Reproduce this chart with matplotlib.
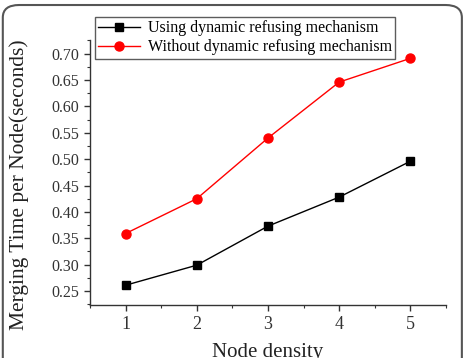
import matplotlib
matplotlib.use("Agg")
import matplotlib.pyplot as plt
from matplotlib.patches import FancyBboxPatch
from matplotlib.ticker import MultipleLocator

# données
densite = [1, 2, 3, 4, 5]
avec_refus = [0.261, 0.299, 0.373, 0.428, 0.496]
sans_refus = [0.359, 0.425, 0.540, 0.646, 0.691]
label_avec = "Using dynamic refusing mechanism"
label_sans = "Without dynamic refusing mechanism"

plt.rcParams['font.family'] = ['Liberation Serif', 'DejaVu Serif']

fig = plt.figure(figsize=(4.67, 3.58), dpi=100)
ax = fig.add_axes([0.1927, 0.148, 0.7623, 0.740])

ax.plot(densite, avec_refus, color='black', marker='s', markersize=6, lw=1, label=label_avec)
ax.plot(densite, sans_refus, color='red', marker='o', markersize=6.5, lw=1, label=label_sans)

ax.set_xlim(0.5, 5.5)
ax.set_ylim(0.2235, 0.7256)
ax.xaxis.set_major_locator(MultipleLocator(1))
ax.xaxis.set_minor_locator(MultipleLocator(0.5))
ax.yaxis.set_major_locator(MultipleLocator(0.05))
ax.yaxis.set_minor_locator(MultipleLocator(0.025))
ax.yaxis.set_major_formatter(plt.FormatStrFormatter('%.2f'))

for s in ['top', 'right']:
    ax.spines[s].set_visible(False)
for s in ['left', 'bottom']:
    ax.spines[s].set_linewidth(1.0)
    ax.spines[s].set_color('#333333')

ax.tick_params(which='major', direction='out', length=4, width=1, colors='#333333')
ax.tick_params(which='minor', direction='out', length=2.5, width=0.8, colors='#333333')
ax.tick_params(axis='y', labelsize=11.5)
ax.tick_params(axis='x', labelsize=13, pad=4)

ax.set_xlabel('Node density', fontsize=15, color='#222222')
ax.xaxis.set_label_coords(0.5, -0.145)
ax.set_ylabel('Merging Time per Node(seconds)', fontsize=15.5, color='#222222')
ax.yaxis.set_label_coords(-0.17, 0.455)

leg = ax.legend(loc='upper left', bbox_to_anchor=(0.2034, 0.9525), bbox_transform=fig.transFigure,
                fontsize=11.5, frameon=True, fancybox=False, handlelength=2.6,
                borderpad=0.2, labelspacing=0.2, handletextpad=0.5, borderaxespad=0)
leg.get_frame().set_edgecolor('#333333')
leg.get_frame().set_linewidth(1.0)

# cadre arrondi autour de toute l'image
cadre = FancyBboxPatch((0.006, -0.05), 0.983, 1.036, transform=fig.transFigure,
                       boxstyle='round,pad=0,rounding_size=0.035', fill=False,
                       edgecolor='#555555', lw=1.5)
fig.patches.append(cadre)

fig.savefig('out.png', dpi=100)
